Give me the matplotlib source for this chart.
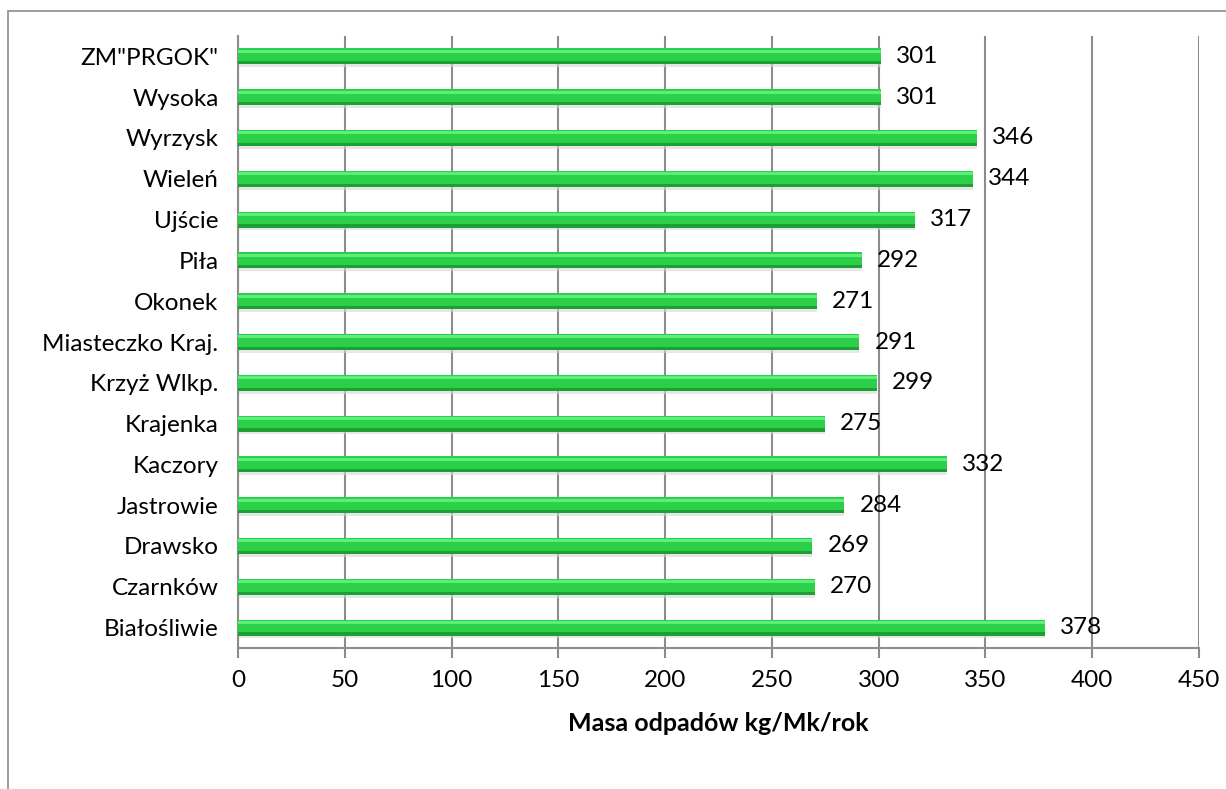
import matplotlib.pyplot as plt
from matplotlib.patches import Rectangle

# data, bottom to top as drawn
gminy = ["Białośliwie", "Czarnków", "Drawsko", "Jastrowie", "Kaczory", "Krajenka",
         "Krzyż Wlkp.", "Miasteczko Kraj.", "Okonek", "Piła", "Ujście", "Wieleń",
         "Wyrzysk", "Wysoka", 'ZM"PRGOK"']
masa = [378, 270, 269, 284, 332, 275, 299, 291, 271, 292, 317, 344, 346, 301, 301]
xticks = [0, 50, 100, 150, 200, 250, 300, 350, 400, 450]

plt.rcParams['font.family'] = ['Lato', 'DejaVu Sans']

W, H = 1226, 789
fig = plt.figure(figsize=(W / 100, H / 100), dpi=100)
ax = fig.add_axes([238 / W, 1 - 648 / H, (1199 - 238) / W, (648 - 36) / H])

# outer chart border (runs off right/bottom edges)
fig.patches.append(Rectangle((8 / W, -0.01), 1.02, 1 - 11 / H + 0.01,
                             transform=fig.transFigure, fill=False,
                             edgecolor="#8c8c8c", linewidth=1.2))

pos = list(range(len(gminy)))
h = 0.39
# soft shadow
ax.barh([p - 0.07 for p in pos], masa, height=h, color="#d6d6d6", alpha=0.6, zorder=2)
# main bar
ax.barh(pos, masa, height=h, color="#2ccf48", linewidth=0, zorder=3)
# light top band
ax.barh([p + h * 0.32 for p in pos], masa, height=h * 0.2, color="#5cee7b", linewidth=0, zorder=4)
# dark bottom band
ax.barh([p - h * 0.4 for p in pos], masa, height=h * 0.2, color="#1c9f33", linewidth=0, zorder=4)

for p, v in zip(pos, masa):
    ax.text(v + 7, p, str(v), va="center", ha="left", fontsize=17.5, zorder=5)

ax.set_xlim(0, 450)
ax.set_ylim(-0.5, len(gminy) - 0.5)
ax.set_xticks(xticks)
ax.set_yticks(pos)
ax.set_yticklabels(gminy)
ax.tick_params(axis="y", length=0, labelsize=17.5, pad=14)
ax.tick_params(axis="x", length=7, width=1.5, color="#8c8c8c", labelsize=17.5, pad=9)

ax.grid(axis="x", color="#8c8c8c", linewidth=1.5, zorder=0)
ax.set_axisbelow(True)
for s in ["top", "right"]:
    ax.spines[s].set_visible(False)
for s in ["left", "bottom"]:
    ax.spines[s].set_color("#8c8c8c")
    ax.spines[s].set_linewidth(1.5)

ax.set_xlabel("Masa odpadów kg/Mk/rok", fontsize=18, fontweight="bold", labelpad=15)

fig.savefig("out.png", dpi=100)
